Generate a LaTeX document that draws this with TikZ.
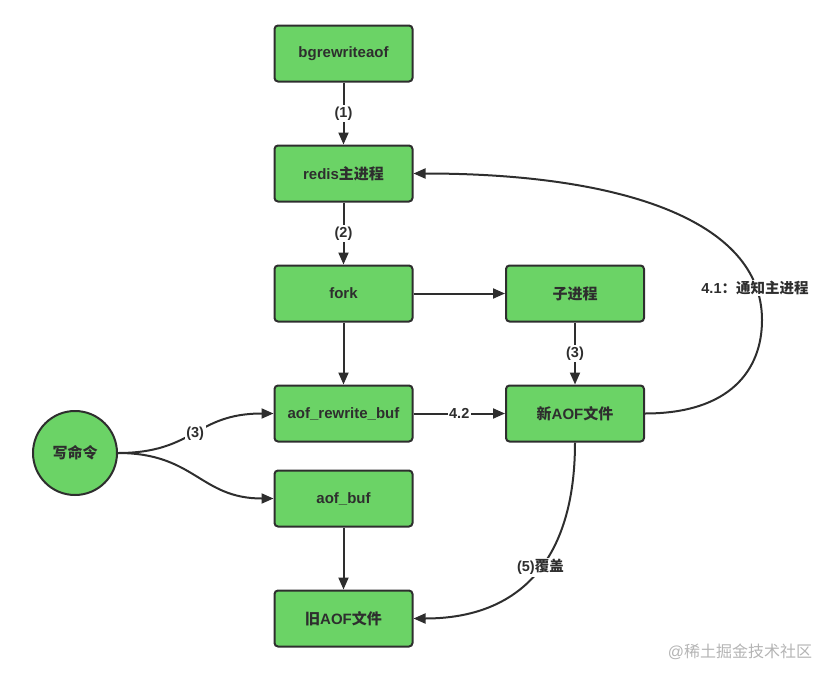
\documentclass[tikz,border=0pt]{standalone}
\usepackage{fontspec}
\setmainfont{Liberation Sans}
\newfontfamily\cjk{Noto Sans CJK SC}
\usetikzlibrary{arrows.meta}
\definecolor{boxgreen}{HTML}{6BD366}
\definecolor{edgegray}{HTML}{2E2E2E}
\definecolor{markgray}{HTML}{B4B4B4}
\tikzset{
  procbox/.style={draw=edgegray, fill=boxgreen, line width=2pt, rounded corners=3.5pt,
    minimum width=138pt, minimum height=56pt, text=edgegray,
    font=\fontsize{15}{18}\selectfont\bfseries},
  flow/.style={draw=edgegray, line width=2pt, -{Triangle[length=12pt,width=10pt]}},
  steplabel/.style={fill=white, inner sep=1.5pt, text=edgegray,
    font=\fontsize{14.5}{16}\selectfont\bfseries},
}
\begin{document}
\begin{tikzpicture}[x=1pt, y=-1pt]
    \useasboundingbox (0,0) rectangle (840,680);
    % processes
    \node[procbox] (bgrw) at (343.5,53.5) {bgrewriteaof};
    \node[procbox] (redis) at (343.5,173.5) {redis{\cjk 主进程}};
    \node[procbox] (fork) at (343.5,293.5) {fork};
    \node[procbox] (child) at (575,293.5) {{\cjk 子进程}};
    \node[procbox] (rwbuf) at (343.5,413.5) {aof\_rewrite\_buf};
    \node[procbox] (newaof) at (575,413.5) {{\cjk 新}AOF{\cjk 文件}};
    \node[procbox] (aofbuf) at (343.5,498.5) {aof\_buf};
    \node[procbox] (oldaof) at (343.5,618.5) {{\cjk 旧}AOF{\cjk 文件}};
    \node[procbox, circle, minimum size=84pt] (write) at (75,453) {{\cjk 写命令}};
    % straight arrows
    \draw[flow] (bgrw) -- node[steplabel] {(1)} (redis);
    \draw[flow] (redis) -- node[steplabel] {(2)} (fork);
    \draw[flow] (fork) -- (child);
    \draw[flow] (fork) -- (rwbuf);
    \draw[flow] (child) -- node[steplabel] {(3)} (newaof);
    \draw[flow] (rwbuf) -- node[steplabel] {4.2} (newaof);
    \draw[flow] (aofbuf) -- (oldaof);
    % curved arrows
    \draw[flow] (write.east) .. controls (195,453) and (195,413.5) .. (rwbuf.west)
        node[steplabel, pos=0.5] {(3)};
    \draw[flow] (write.east) .. controls (195,453) and (200,498.5) .. (aofbuf.west);
    \draw[flow] (newaof.east) .. controls (730,413.5) and (762,370) .. (762,320)
        .. controls (762,220) and (620,173.5) .. (redis.east);
    \node[steplabel] (notify) at (755,288) {4.1{\cjk ：通知主进程}};
    \draw[flow] (newaof.south) .. controls (575,560) and (520,618.5) .. (oldaof.east)
        node[steplabel, pos=0.46] {(5){\cjk 覆盖}};
    % watermark
    \node[text=markgray, font=\fontsize{16}{18}\selectfont] (mark) at (740,652) {@{\cjk 稀土掘金技术社区}};
\end{tikzpicture}
\end{document}
